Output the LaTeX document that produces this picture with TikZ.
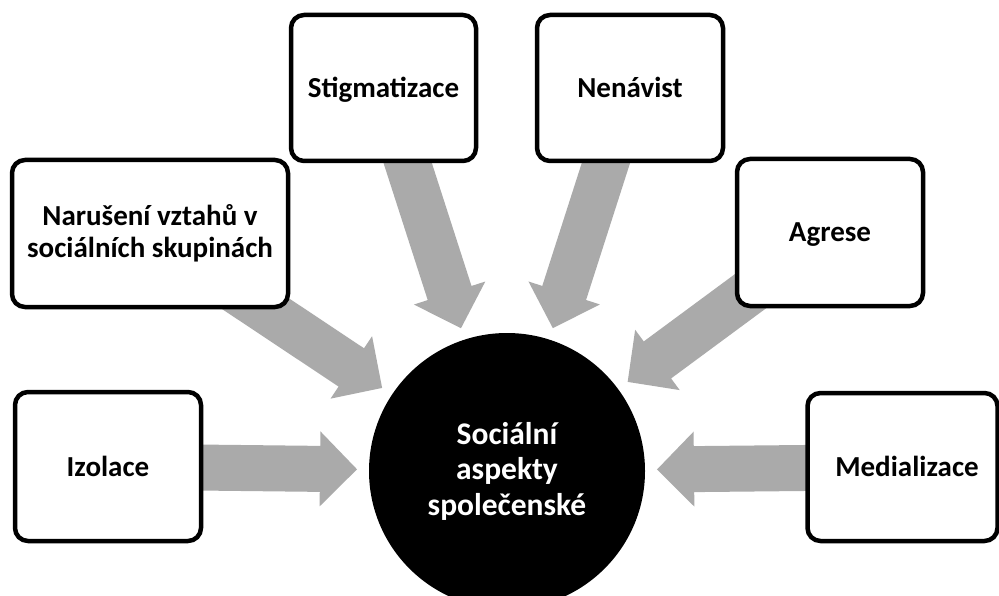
\documentclass[tikz,border=0pt]{standalone}
\usepackage{fontspec}
\setmainfont{Carlito}
\usetikzlibrary{calc,backgrounds}
\definecolor{arrowgray}{RGB}{170,170,170}
\tikzset{
  box/.style={draw=black, line width=4.5pt, rounded corners=13pt, fill=white, align=center,
    font=\bfseries\fontsize{29}{31.5}\selectfont, inner sep=0pt},
  oneline/.style={text height=19pt, text depth=0pt},
  hub/.style={circle, fill=black, text=white, minimum size=276pt, inner sep=0pt, align=center,
    font=\bfseries\fontsize{31.5}{35.5}\selectfont},
}
\newcommand\fatarrow[2]{%
  \coordinate (#1-hb) at ($(#2)!37pt!(#1)$);
  \fill[arrowgray] ($(#1)!23pt!90:(#2)$) -- ($(#1-hb)!23pt!90:(#2)$) -- ($(#1-hb)!37.5pt!90:(#2)$)
    -- (#2) -- ($(#1-hb)!37.5pt!-90:(#2)$) -- ($(#1-hb)!23pt!-90:(#2)$) -- ($(#1)!23pt!-90:(#2)$) -- cycle;
}
\begin{document}
\begin{tikzpicture}[x=1pt,y=-1pt]
\useasboundingbox (0,0) rectangle (999,596);
\node[hub] (hub) at (507,471) {Sociální\\aspekty\\společenské};
\node[box, minimum width=276pt, minimum height=147pt] (nar) at (150,233.5) {Narušení vztahů v\\sociálních skupinách};
\node[box, oneline, minimum width=185pt, minimum height=146pt] (stig) at (383.5,88) {Stigmatizace};
\node[box, oneline, minimum width=186pt, minimum height=146pt] (nen) at (630,88) {Nenávist};
\node[box, oneline, minimum width=186pt, minimum height=147pt] (agr) at (830,232.5) {Agrese};
\node[box, oneline, minimum width=186pt, minimum height=149pt] (izo) at (108,466.5) {Izolace};
\node[box, oneline, minimum width=190pt, minimum height=148pt] (med) at (902.5,467) {\hspace*{9pt}Medializace};
\foreach \b in {nar,stig,nen,agr,izo,med}{
  \coordinate (\b-t) at ($(hub)!150pt!(\b)$);
}
\begin{scope}[on background layer]
\fill[white] (0,0) rectangle (999,596);
\fatarrow{nar}{nar-t}
\fatarrow{stig}{stig-t}
\fatarrow{nen}{nen-t}
\fatarrow{agr}{agr-t}
\fatarrow{izo}{izo-t}
\fatarrow{med}{med-t}
\end{scope}
\end{tikzpicture}
\end{document}
